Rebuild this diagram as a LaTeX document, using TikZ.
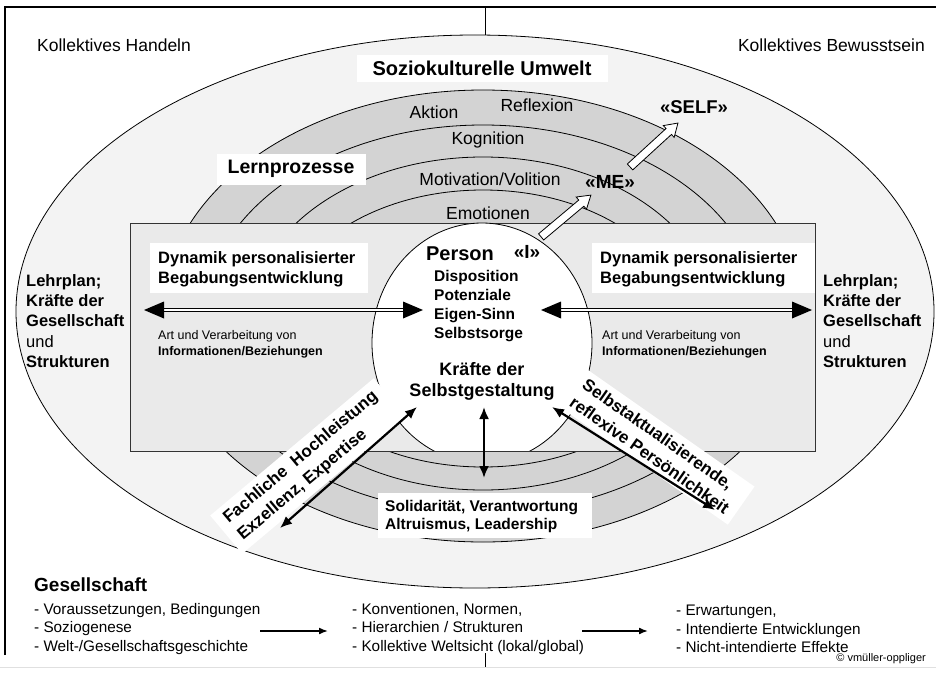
\documentclass[tikz,border=0pt]{standalone}
\usepackage{fontspec}
\setmainfont{Liberation Sans}
\usetikzlibrary{arrows.meta}
\definecolor{ellfill}{HTML}{F3F3F3}
\definecolor{rectfill}{HTML}{EAEAEA}
\definecolor{ringfill}{HTML}{D3D3D3}
\newcommand\myfs[2]{\fontsize{#1}{#2}\selectfont}
\begin{document}
\begin{tikzpicture}[x=1pt,y=-1pt,
  txt/.style={inner sep=0pt},
  wbox/.style={fill=white, inner sep=0pt},
  dbl/.style={draw=black, double=white, double distance=2pt, line width=1.1pt},
  darr/.style={line width=2.2pt, {Latex[length=12pt,width=10pt]}-{Latex[length=12pt,width=10pt]}},
  sarr/.style={line width=1.6pt, -{Latex[length=9pt,width=7pt]}},
  whitearrow/.style={draw, fill=white, line width=0.8pt},
  thin/.style={line width=0.8pt}
]
\useasboundingbox (0,0) rectangle (936,674);

% frame
\draw[line width=1.2pt] (5,655) -- (5,7) -- (936,7);
\draw[line width=0.8pt, draw=black!12] (0,667) -- (936,667);

% outer ellipse
\draw[fill=ellfill, thin] (475,311.5) ellipse [x radius=459, y radius=276.5];
\coordinate (topT) at (485,7); \coordinate (topB) at (485,35);
\draw[line width=1pt] (topT) -- (topB);
\coordinate (botT) at (485,653); \coordinate (botB) at (485,667);
\draw[line width=1pt] (botT) -- (botB);

% rings
\draw[fill=ringfill, thin] (483,316) ellipse [x radius=321, y radius=226];
\draw[thin] (483,319) ellipse [x radius=279, y radius=194];
\draw[thin] (483,323.5) ellipse [x radius=234, y radius=166.5];
\draw[thin] (483,328.5) ellipse [x radius=203, y radius=138.5];

% rectangle
\draw[fill=rectfill, draw=black!80, thin] (130,223) rectangle (815,451);

% person circle (clipped to rectangle)
\begin{scope}
\clip (130,200) rectangle (815,451);
\draw[fill=white, thin] (482,343) ellipse [x radius=110, y radius=120];
\end{scope}
\draw[draw=black!80, thin] (130,451) -- (815,451);

% white block arrows
\begin{scope}[shift={(566,216)}, rotate=40]
 \draw[whitearrow] (-32.5,-4) -- (20,-4) -- (20,-8) -- (32.5,0) -- (20,8) -- (20,4) -- (-32.5,4) -- cycle;
\end{scope}
\begin{scope}[shift={(654,145)}, rotate=42.5]
 \draw[whitearrow] (-32.5,-4) -- (20,-4) -- (20,-8) -- (32.5,0) -- (20,8) -- (20,4) -- (-32.5,4) -- cycle;
\end{scope}

% top texts
\node[txt, font=\myfs{17.5}{20}, anchor=west] (kh) at (37,45) {Kollektives Handeln};
\node[txt, font=\myfs{17.5}{20}, anchor=east] (kb) at (925,45) {Kollektives Bewusstsein};
\node[wbox, minimum width=251pt, minimum height=27pt, font=\bfseries\myfs{20}{24}] (su) at (482,68.5) {Soziokulturelle Umwelt};

% ring labels
\node[txt, font=\myfs{17.5}{20}] (akt) at (434,112) {Aktion};
\node[txt, font=\myfs{17.5}{20}] (refl) at (537,105) {Reflexion};
\node[txt, font=\myfs{17.5}{20}] (kog) at (488,140) {Kognition};
\node[txt, font=\myfs{17.5}{20}] (mot) at (490,179) {Motivation/Volition};
\node[txt, font=\myfs{17.5}{20}] (emo) at (488,213) {Emotionen};
\node[txt, font=\bfseries\myfs{18.5}{22}] (self) at (694,107) {«SELF»};
\node[txt, font=\bfseries\myfs{19}{22}] (me) at (610,182) {«ME»};
\node[wbox, minimum width=149pt, minimum height=31pt, font=\bfseries\myfs{19.5}{23}] (lp) at (291,169) {Lernprozesse};

% Dynamik boxes
\node[wbox, minimum width=218pt, minimum height=50pt, anchor=north west] (dynLbox) at (150,243) {};
\node[txt, anchor=west, align=left, font=\bfseries\myfs{16.5}{20}] (dynL) at (158,269) {Dynamik personalisierter\\Begabungsentwicklung};
\node[wbox, minimum width=223pt, minimum height=50pt, anchor=north west] (dynRbox) at (592,243) {};
\node[txt, anchor=west, align=left, font=\bfseries\myfs{16.5}{20}] (dynR) at (600,269) {Dynamik personalisierter\\Begabungsentwicklung};

% Art und Verarbeitung
\node[txt, anchor=west, align=left, font=\myfs{12.5}{16}] (avL) at (158,344) {Art und Verarbeitung von\\\textbf{Informationen/Beziehungen}};
\node[txt, anchor=west, align=left, font=\myfs{12.5}{16}] (avR) at (602,344) {Art und Verarbeitung von\\\textbf{Informationen/Beziehungen}};

% Lehrplan blocks
\node[txt, anchor=west, align=left, font=\myfs{16.5}{20.3}] (lpL) at (26,321) {\textbf{Lehrplan;}\\\textbf{Kräfte der}\\\textbf{Gesellschaft}\\und\\\textbf{Strukturen}};
\node[txt, anchor=west, align=left, font=\myfs{16.5}{20.3}] (lpR) at (823,321) {\textbf{Lehrplan;}\\\textbf{Kräfte der}\\\textbf{Gesellschaft}\\und\\\textbf{Strukturen}};

% person texts
\node[txt, font=\bfseries\myfs{20}{24}] (person) at (460,254) {Person};
\node[txt, font=\bfseries\myfs{19}{22}] (ich) at (527,252) {«I»};
\node[txt, anchor=west, align=left, font=\bfseries\myfs{15.5}{18.7}] (disp) at (434,306) {Disposition\\Potenziale\\Eigen-Sinn\\Selbstsorge};
\node[txt, align=center, font=\bfseries\myfs{18}{21}] (kraefte) at (482,381.5) {Kräfte der\\Selbstgestaltung};

% Solidaritaet
\node[wbox, minimum width=214pt, minimum height=45pt] (solbox) at (485,515.5) {};
\node[txt, anchor=west, align=left, font=\bfseries\myfs{15.5}{18}] (sol) at (385,516) {Solidarität, Verantwortung\\Altruismus, Leadership};

% rotated boxes
\node[fill=white, rotate=40, align=left, inner xsep=9pt, inner ysep=6pt, font=\bfseries\myfs{17}{22}] (fach) at (308,466) {Fachliche\ \ Hochleistung\\Exzellenz, Expertise};
\node[fill=white, rotate=-35, align=left, inner xsep=9pt, inner ysep=6pt, font=\bfseries\myfs{17}{22}] (selbst) at (656,446) {Selbstaktualisierende,\\reflexive Persönlichkeit};

% horizontal double arrows
\coordinate (hl1) at (144,310); \coordinate (hl2) at (423,310);
\coordinate (hr1) at (541,310); \coordinate (hr2) at (812,310);
\draw[dbl] ([xshift=18pt]hl1) -- ([xshift=-18pt]hl2);
\draw[dbl] ([xshift=18pt]hr1) -- ([xshift=-18pt]hr2);
\fill (hl1) -- ++(20,-8.5) -- ++(0,17) -- cycle;
\fill (hl2) -- ++(-20,-8.5) -- ++(0,17) -- cycle;
\fill (hr1) -- ++(20,-8.5) -- ++(0,17) -- cycle;
\fill (hr2) -- ++(-20,-8.5) -- ++(0,17) -- cycle;

% diagonal / vertical arrows
\coordinate (dl1) at (417,407); \coordinate (dl2) at (280,528);
\coordinate (dc1) at (484,407); \coordinate (dc2) at (484,478);
\coordinate (dr1) at (552,407); \coordinate (dr2) at (715,510);
\draw[darr] (dl1) -- (dl2);
\draw[darr] (dc1) -- (dc2);
\draw[darr] (dr1) -- (dr2);

% bottom
\node[txt, anchor=west, font=\bfseries\myfs{19}{22}] (ges) at (34,585) {Gesellschaft};
\node[txt, anchor=west, align=left, font=\myfs{15.3}{18.5}] (c1) at (34,629) {- Voraussetzungen, Bedingungen\\- Soziogenese\\- Welt-/Gesellschaftsgeschichte};
\node[txt, anchor=west, align=left, font=\myfs{15.3}{18.5}] (c2) at (352,629) {- Konventionen, Normen,\\- Hierarchien / Strukturen\\- Kollektive Weltsicht (lokal/global)};
\node[txt, anchor=west, align=left, font=\myfs{15.3}{18.5}] (c3) at (676,629) {- Erwartungen,\\- Intendierte Entwicklungen\\- Nicht-intendierte Effekte};
\coordinate (ba1) at (260,631); \coordinate (ba2) at (328,631);
\coordinate (ba3) at (582,631); \coordinate (ba4) at (648,631);
\draw[sarr] (ba1) -- (ba2);
\draw[sarr] (ba3) -- (ba4);
\node[txt, anchor=east, font=\myfs{11}{13}] (copy) at (926,659) {© vmüller-oppliger};
\end{tikzpicture}
\end{document}
